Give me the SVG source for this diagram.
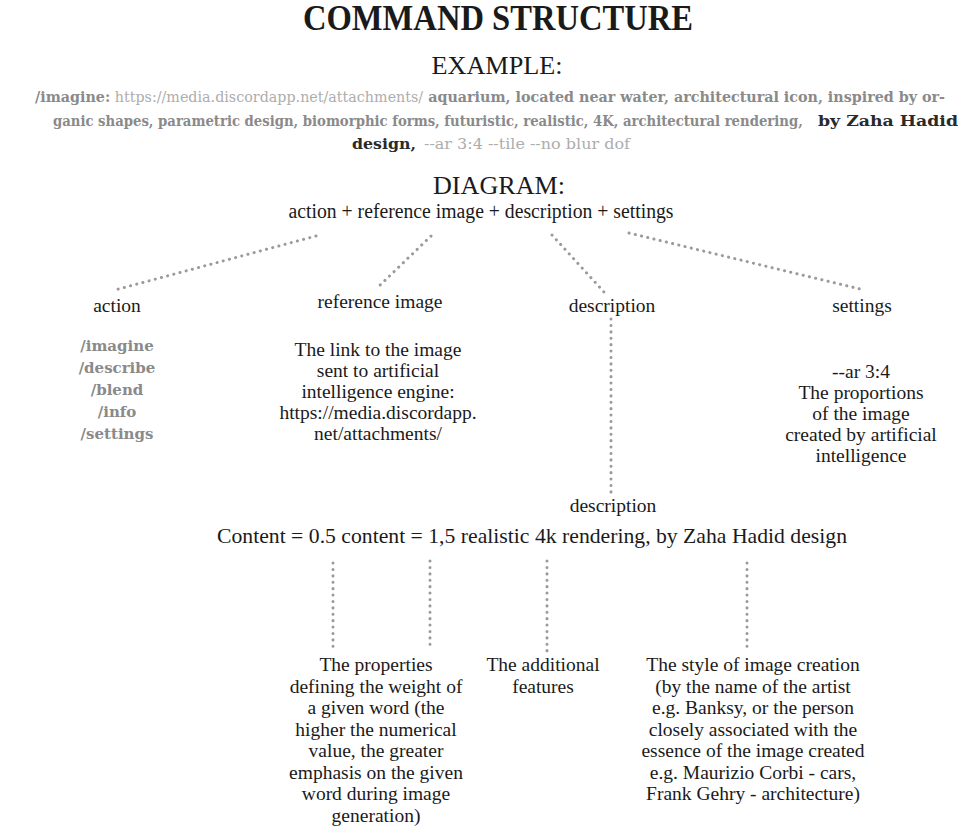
<svg xmlns="http://www.w3.org/2000/svg" width="979" height="828" viewBox="0 0 979 828">
<style>
.t{font-family:"Liberation Serif","Times New Roman",serif;fill:#1a1a1a;text-anchor:middle}
.lab{font-size:19.5px}
.slab{font-family:"DejaVu Serif",serif;font-weight:bold;font-size:15px}
.g1{fill:#8a8a8a}
.g2{fill:#adadad;font-weight:normal}
.dk{fill:#2a2a2a}
.dot{stroke:#9a9a9a;stroke-width:3;stroke-linecap:round;stroke-dasharray:0.1 6.3;fill:none}
</style>
<rect width="979" height="828" fill="#ffffff"/>
<g id="title">
<text class="t" x="498" y="30" font-size="35" font-weight="bold" textLength="390" lengthAdjust="spacingAndGlyphs">COMMAND STRUCTURE</text>
<text class="t" x="497" y="74" font-size="26" textLength="131" lengthAdjust="spacingAndGlyphs">EXAMPLE:</text>
</g>
<g id="example">
<text class="slab g1" x="35" y="102" textLength="910" lengthAdjust="spacingAndGlyphs">/imagine:<tspan class="g2"> https://media.discordapp.net/attachments/</tspan> aquarium, located near water, architectural icon, inspired by or-</text>
<g transform="translate(53,126) scale(0.88,1)">
<text class="slab g1" x="0" y="0" textLength="852" lengthAdjust="spacingAndGlyphs">ganic shapes, parametric design, biomorphic forms, futuristic, realistic, 4K, architectural rendering,</text>
</g>
<text class="slab dk" x="818" y="126" font-size="14.5" textLength="140" lengthAdjust="spacingAndGlyphs">by Zaha Hadid</text>
<text class="slab dk" x="352" y="149" textLength="64" lengthAdjust="spacingAndGlyphs">design,</text>
<text class="slab g2" x="424" y="149" textLength="206" lengthAdjust="spacingAndGlyphs">--ar 3:4 --tile --no blur dof</text>
</g>
<g id="diagram-head">
<text class="t" x="499" y="194" font-size="26" textLength="132" lengthAdjust="spacingAndGlyphs">DIAGRAM:</text>
<text class="t" x="481" y="218" font-size="20" textLength="385" lengthAdjust="spacingAndGlyphs">action + reference image + description + settings</text>
</g>
<g id="connectors">
<line class="dot" x1="316" y1="236" x2="115" y2="290"/>
<line class="dot" x1="431" y1="236" x2="376" y2="289"/>
<line class="dot" x1="552" y1="235" x2="604" y2="292"/>
<line class="dot" x1="629" y1="233" x2="860" y2="289"/>
<line class="dot" x1="611" y1="319" x2="611" y2="492"/>
<line class="dot" x1="333" y1="563" x2="333" y2="648"/>
<line class="dot" x1="430" y1="561" x2="430" y2="645"/>
<line class="dot" x1="547" y1="561" x2="547" y2="652"/>
<line class="dot" x1="747" y1="563" x2="747" y2="650"/>
</g>
<g id="action">
<text class="t lab" x="117" y="312">action</text>
<g class="slab g1" text-anchor="middle">
<text x="117" y="351">/imagine</text>
<text x="117" y="373">/describe</text>
<text x="117" y="395">/blend</text>
<text x="117" y="417">/info</text>
<text x="117" y="439">/settings</text>
</g>
</g>
<g id="reference-image">
<text class="t lab" x="380" y="308">reference image</text>
<text class="t lab" x="378" y="356">The link to the image</text>
<text class="t lab" x="378" y="377">sent to artificial</text>
<text class="t lab" x="378" y="398">intelligence engine:</text>
<text class="t lab" x="378" y="419">https://media.discordapp.</text>
<text class="t lab" x="378" y="440">net/attachments/</text>
</g>
<g id="description">
<text class="t lab" x="612" y="312">description</text>
</g>
<g id="settings">
<text class="t lab" x="862" y="312">settings</text>
<text class="t lab" x="861" y="378">--ar 3:4</text>
<text class="t lab" x="861" y="399">The proportions</text>
<text class="t lab" x="861" y="420">of the image</text>
<text class="t lab" x="861" y="441">created by artificial</text>
<text class="t lab" x="861" y="462">intelligence</text>
</g>
<g id="description-detail">
<text class="t lab" x="613" y="512">description</text>
<text class="t" x="532" y="543" font-size="21" fill="#333" textLength="630" lengthAdjust="spacingAndGlyphs">Content = 0.5 content = 1,5 realistic 4k rendering, by Zaha Hadid design</text>
</g>
<g id="weight">
<text class="t lab" x="376" y="671">The properties</text>
<text class="t lab" x="376" y="692.5">defining the weight of</text>
<text class="t lab" x="376" y="714">a given word (the</text>
<text class="t lab" x="376" y="735.5">higher the numerical</text>
<text class="t lab" x="376" y="757">value, the greater</text>
<text class="t lab" x="376" y="778.5">emphasis on the given</text>
<text class="t lab" x="376" y="800">word during image</text>
<text class="t lab" x="376" y="821.5">generation)</text>
</g>
<g id="features">
<text class="t lab" x="543" y="671">The additional</text>
<text class="t lab" x="543" y="692.5">features</text>
</g>
<g id="style">
<text class="t lab" x="753" y="671">The style of image creation</text>
<text class="t lab" x="753" y="692.5">(by the name of the artist</text>
<text class="t lab" x="753" y="714">e.g. Banksy, or the person</text>
<text class="t lab" x="753" y="735.5">closely associated with the</text>
<text class="t lab" x="753" y="757">essence of the image created</text>
<text class="t lab" x="753" y="778.5">e.g. Maurizio Corbi - cars,</text>
<text class="t lab" x="753" y="800">Frank Gehry - architecture)</text>
</g>
</svg>
